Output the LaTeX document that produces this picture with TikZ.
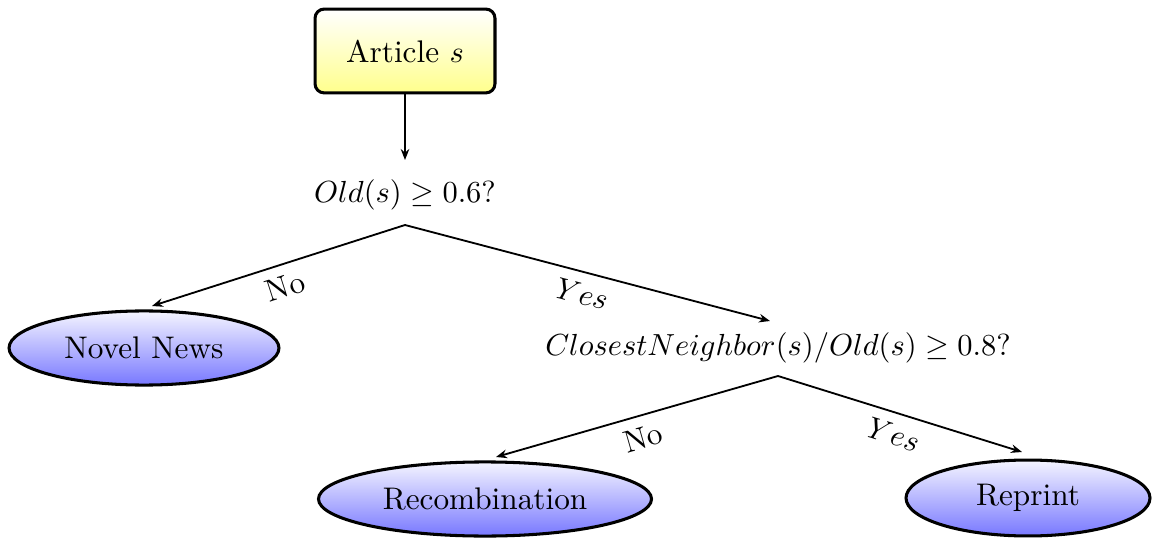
\documentclass[tikz,border=0pt]{standalone}
\usetikzlibrary{arrows.meta,shapes.geometric}
\begin{document}
\begin{tikzpicture}[x=0.3279pt,y=-0.3279pt,
  every node/.append style={font=\fontsize{10.25pt}{12.3pt}\selectfont},
  startbox/.style={draw,rectangle,rounded corners=3pt,line width=1pt,
    top color=white,bottom color=yellow!45,minimum width=59pt,minimum height=27.5pt},
  leaf/.style={draw,ellipse,line width=1pt,top color=blue!4,bottom color=blue!53,inner sep=0pt},
  question/.style={inner sep=0pt},
  conn/.style={line width=0.6pt,-{Stealth[length=3.6pt,width=2.8pt]}},
  lab/.style={sloped,below,pos=0.5}]
\useasboundingbox (0,0) rectangle (1153,540);
\node[startbox] (art) at (405,51) {Article $s$};
\node[question] (q1) at (405,195) {$Old(s) \geq 0.6?$};
\coordinate (q1in) at (405,160);
\coordinate (q1out) at (405,225);
\node[leaf,minimum width=88.5pt,minimum height=24.3pt] (nn) at (144,348) {Novel News};
\coordinate (nnin) at (152,306);
\node[question] (q2) at (778,348) {$ClosestNeighbor(s)/Old(s) \geq 0.8?$};
\coordinate (q2in) at (770,321);
\coordinate (q2out) at (778,376);
\node[leaf,minimum width=109.2pt,minimum height=24.3pt] (rec) at (485,499) {Recombination};
\coordinate (recin) at (496,457);
\node[leaf,minimum width=80pt,minimum height=24.9pt] (rep) at (1028,498) {Reprint};
\coordinate (repin) at (1022,452);
\draw[conn] (art.south) -- (q1in);
\draw[conn] (q1out) -- node[lab] (l1) {No} (nnin);
\draw[conn] (q1out) -- node[lab] (l2) {$Yes$} (q2in);
\draw[conn] (q2out) -- node[lab] (l3) {No} (recin);
\draw[conn] (q2out) -- node[lab] (l4) {$Yes$} (repin);
\end{tikzpicture}
\end{document}
